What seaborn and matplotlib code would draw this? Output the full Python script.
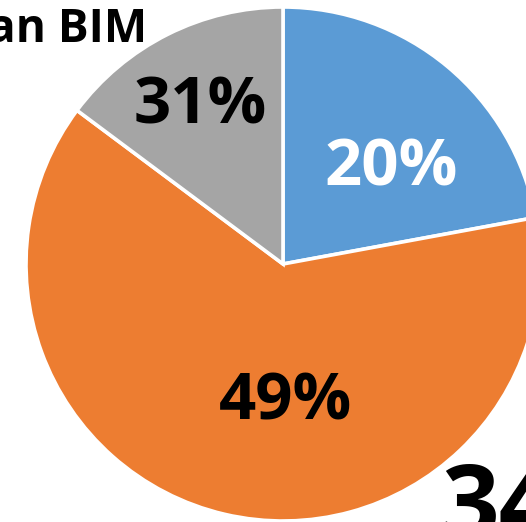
import matplotlib
matplotlib.use("Agg")
import matplotlib.pyplot as plt
import seaborn as sns

# --- Data ---
# slice shares as drawn, clockwise from 12 o'clock: blue, orange, gray
slice_shares = [22.1, 63.1, 14.8]
slice_labels = ["20%", "49%", "31%"]
label_colors = ["white", "black", "black"]
slice_colors = ["#5B9BD5", "#ED7D31", "#A5A5A5"]
title_text = "an BIM"
corner_text = "34"

sns.set_style("white")
plt.rcParams['font.family'] = ['Open Sans', 'DejaVu Sans']

W, H = 526, 522
fig = plt.figure(figsize=(W / 100, H / 100), dpi=100)
ax = fig.add_axes([0, 0, 1, 1])

ax.pie(slice_shares, colors=slice_colors, startangle=90, counterclock=False,
       center=(283, H - 264), radius=257,
       wedgeprops=dict(edgecolor='white', linewidth=2.6))

# data labels (positioned as in the original)
label_pos = [(391, 169), (285, 403), (200, 107)]
for (x, y), txt, c in zip(label_pos, slice_labels, label_colors):
    ax.text(x, H - y, txt, color=c, fontsize=47, fontweight='bold',
            ha='center', va='center')

# cropped title and cropped number
ax.text(147, H - 42, title_text, fontsize=33, fontweight='bold',
        ha='right', va='baseline', color='black')
ax.text(441, H - 460, corner_text, fontsize=73, fontweight='bold',
        ha='left', va='top', color='black')

ax.set_xlim(0, W)
ax.set_ylim(0, H)
ax.set_aspect('equal')
ax.axis('off')

fig.savefig("out.png", dpi=100)
plt.close(fig)
